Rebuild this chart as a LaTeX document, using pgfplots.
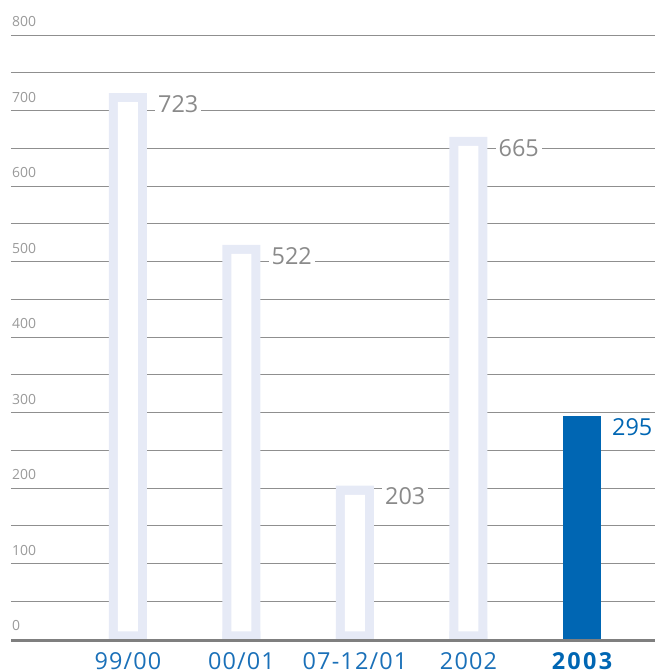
\documentclass[border=0pt]{standalone}
\usepackage{pgfplots}
\pgfplotsset{compat=1.18}
\usepackage{pgfplotstable}
\usepackage{fontspec}
\setmainfont{Open Sans}
\definecolor{lav}{HTML}{E6EAF6}
\definecolor{barblue}{HTML}{0066B3}
\definecolor{lblblue}{HTML}{1A70B8}
\definecolor{valgray}{HTML}{8A8A8A}
\definecolor{tickgray}{HTML}{9A9A9A}
\definecolor{gridgray}{HTML}{8F8F8F}
\definecolor{axgray}{HTML}{7F7F7F}

\pgfplotstableread{
x y lab b
0 723 723 10
1 522 522 10
2 203 203 10
3 665 665 10
}\outlined
\pgfplotstableread{
x y lab
4 295 295
}\current

\begin{document}
\begin{tikzpicture}
\begin{axis}[
 at={(0,0)}, anchor=south west,
 scale only axis, width=644bp, height=604bp,
 xmin=-1.03, xmax=4.643, ymin=0, ymax=800,
 axis line style={draw=none},
 ytick={50,100,...,800}, yticklabels={},
 ymajorgrids, grid style={gridgray, line width=0.9bp},
 xtick={0,1,2,3,4},
 xticklabels={99/00,00/01,07-12/01,2002,{\textcolor{barblue}{\bfseries\addfontfeature{LetterSpace=10}2003}}},
 xticklabel style={anchor=base, inner sep=0pt, yshift=-30bp, font=\fontsize{23.5}{27}\selectfont\addfontfeature{LetterSpace=5}, text=lblblue},
 tick style={draw=none}, major tick length=0pt,
 clip mode=individual,
 ybar,
 /pgf/number format/assume math mode=true,
]
\addplot[fill=lav, draw=none, bar width=38bp, bar shift=0pt,
  nodes near coords, point meta=explicit symbolic,
  nodes near coords style={anchor=north west, xshift=27bp, yshift=2bp, fill=white, inner xsep=3bp, inner ysep=4bp, text=valgray, font=\fontsize{23.5}{28}\selectfont}]
  table[x=x,y=y,meta=lab]{\outlined};
\addplot[fill=white, draw=none, bar width=20bp, bar shift=0pt]
  table[x=x, y expr=\thisrow{y}-12]{\outlined};
\addplot[fill=lav, draw=none, bar width=38bp, bar shift=0pt]
  table[x=x, y=b]{\outlined};
\addplot[fill=barblue, draw=none, bar width=38bp, bar shift=0pt,
  nodes near coords, point meta=explicit symbolic,
  nodes near coords style={anchor=north west, xshift=27bp, yshift=2bp, inner xsep=3bp, inner ysep=4bp, text=barblue, font=\fontsize{23.5}{28}\selectfont}]
  table[x=x,y=y,meta=lab]{\current};
\pgfplotsinvokeforeach{0,100,200,300,400,500,600,700,800}{
  \node[anchor=south west, inner sep=0pt, text=tickgray, font=\fontsize{14}{16}\selectfont] at ([shift={(1bp,8bp)}]axis cs:-1.03,#1) {#1};
}
\end{axis}
\draw[axgray, line width=3bp] ([yshift=-1.5bp]current axis.south west) -- ([yshift=-1.5bp]current axis.south east);
\pgfresetboundingbox
\path[use as bounding box] (-11bp,-32bp) rectangle (644bp,639bp);
\end{tikzpicture}
\end{document}
